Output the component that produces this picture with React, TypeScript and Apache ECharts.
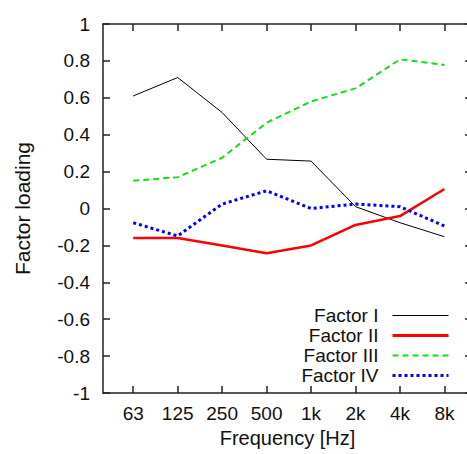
import React, { useEffect, useRef } from "react";
import * as echarts from "echarts";

const categories = ["63", "125", "250", "500", "1k", "2k", "4k", "8k"];
const factorI = [0.61, 0.71, 0.52, 0.267, 0.257, 0.01, -0.077, -0.153];
const factorII = [-0.16, -0.16, -0.2, -0.243, -0.2, -0.089, -0.041, 0.106];
const factorIII = [0.15, 0.17, 0.275, 0.465, 0.58, 0.651, 0.808, 0.778];
const factorIV = [-0.077, -0.149, 0.024, 0.096, 0.0, 0.024, 0.01, -0.095];
const yTicks = [-1, -0.8, -0.6, -0.4, -0.2, 0, 0.2, 0.4, 0.6, 0.8, 1];
const legendNames = ["Factor I", "Factor II", "Factor III", "Factor IV"];

const FONT = "Liberation Sans, Arial, sans-serif";
const FS = 19;

export default function App() {
  const ref = useRef<HTMLDivElement>(null);
  useEffect(() => {
    if (!ref.current) return;
    const chart = echarts.init(ref.current, undefined, { renderer: "svg" });
    const idx = categories.map((_, i) => i);
    const pts = (arr: number[]) => arr.map((v, i) => [i, v]);
    const tickColor = "#222";
    const line = { onZero: false, lineStyle: { color: tickColor, width: 1.5 } };
    const widths = [1, 3, 2, 3];
    chart.setOption({
      animation: false,
      backgroundColor: "#fff",
      textStyle: { fontFamily: FONT },
      grid: { left: 103, top: 24, right: 0, bottom: 61 },
      xAxis: [
        {
          type: "value",
          min: -0.68,
          max: 7.62,
          name: "Frequency [Hz]",
          nameLocation: "middle",
          nameGap: 35,
          nameTextStyle: { fontSize: 20, color: "#111", fontFamily: FONT },
          axisLine: { show: true, ...line },
          axisTick: { inside: true, length: 7, customValues: idx, lineStyle: { color: tickColor, width: 1.5 } },
          axisLabel: {
            customValues: idx,
            formatter: (v: number) => categories[Math.round(v)] ?? "",
            fontSize: FS,
            color: "#111",
            margin: 11,
            fontFamily: FONT,
          },
          splitLine: { show: false },
        },
        {
          type: "value",
          position: "top",
          min: -0.68,
          max: 7.62,
          axisLine: { show: true, ...line },
          axisTick: { show: true, inside: true, length: 7, customValues: idx, lineStyle: { color: tickColor, width: 1.5 } },
          axisLabel: { show: false },
          splitLine: { show: false },
        },
      ],
      yAxis: [
        {
          type: "value",
          min: -1,
          max: 1,
          interval: 0.2,
          name: "Factor loading",
          nameLocation: "middle",
          nameGap: 70,
          nameTextStyle: { fontSize: 21, color: "#111", fontFamily: FONT },
          axisLine: { show: true, ...line },
          axisTick: { show: true, inside: true, length: 7, customValues: yTicks, lineStyle: { color: tickColor, width: 1.5 } },
          axisLabel: {
            customValues: yTicks,
            formatter: (v: number) => String(Math.round(v * 10) / 10),
            fontSize: FS,
            color: "#111",
            margin: 13,
            fontFamily: FONT,
          },
          splitLine: { show: false },
        },
        {
          type: "value",
          position: "right",
          min: -1,
          max: 1,
          interval: 0.2,
          axisLine: { show: true, ...line },
          axisTick: { show: true, inside: true, length: 7, lineStyle: { color: tickColor, width: 1.5 } },
          axisLabel: { show: false },
          splitLine: { show: false },
        },
      ],
      legend: {
        orient: "vertical",
        right: 17,
        top: 301,
        align: "right",
        itemWidth: 56,
        itemHeight: 10,
        itemGap: 1,
        itemStyle: { opacity: 0 },
        textStyle: { fontSize: FS, color: "#111", fontFamily: FONT, padding: [0, 9, 0, 0] },
        data: legendNames.map((name, i) => ({ name, lineStyle: { width: widths[i] } })),
      },
      series: [
        {
          name: "Factor I",
          type: "line",
          data: pts(factorI),
          symbol: "none",
          lineStyle: { color: "#000", width: 1 },
          itemStyle: { color: "#000" },
        },
        {
          name: "Factor II",
          type: "line",
          data: pts(factorII),
          symbol: "none",
          lineStyle: { color: "#f00", width: 2.5 },
          itemStyle: { color: "#f00" },
        },
        {
          name: "Factor III",
          type: "line",
          data: pts(factorIII),
          symbol: "none",
          lineStyle: { color: "#11e011", width: 2, type: [6, 4] },
          itemStyle: { color: "#11e011" },
        },
        {
          name: "Factor IV",
          type: "line",
          data: pts(factorIV),
          symbol: "none",
          lineStyle: { color: "#0000ff", width: 3, type: [3, 3] },
          itemStyle: { color: "#0000ff" },
        },
      ],
    });
    return () => chart.dispose();
  }, []);
  return (
    <div style={{ width: 467, height: 454, position: "absolute", left: 0, top: 0, overflow: "hidden" }}>
      <div ref={ref} style={{ width: 472, height: 454, position: "absolute", left: 0, top: 0 }} />
    </div>
  );
}
